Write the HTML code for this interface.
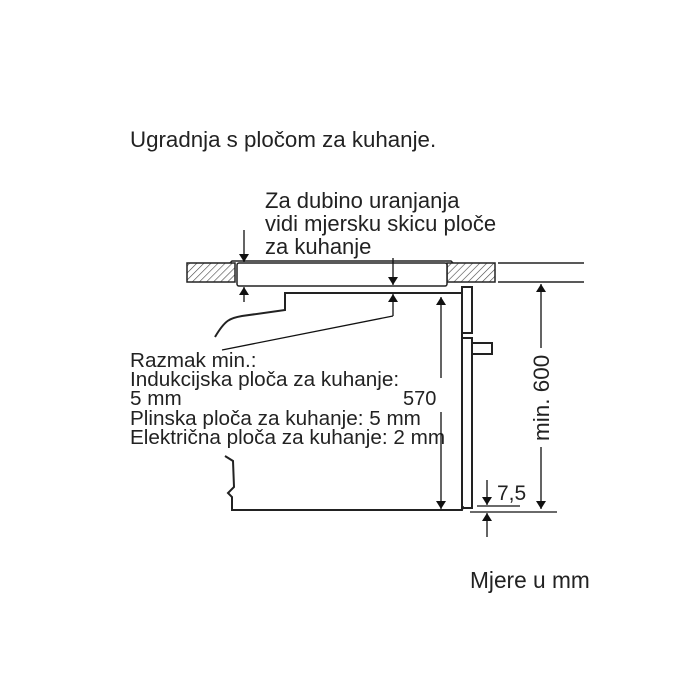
<!DOCTYPE html>
<html><head><style>
body{margin:0;background:#fff}
svg{display:block}
text{font-family:"Liberation Sans",sans-serif;fill:#222}
</style></head><body>
<svg width="700" height="700" viewBox="0 0 700 700">
<defs>
<pattern id="h" width="5" height="5" patternUnits="userSpaceOnUse" patternTransform="rotate(45)">
<line x1="0" y1="0" x2="0" y2="5" stroke="#444" stroke-width="1.2"/>
</pattern>
<marker id="a" markerWidth="8" markerHeight="10" refX="8" refY="5" orient="auto" markerUnits="userSpaceOnUse">
<path d="M0,0 L8,5 L0,10 z" fill="#111"/>
</marker>
</defs>
<text x="130" y="147" font-size="22.3">Ugradnja s pločom za kuhanje.</text>
<text x="265" y="208" font-size="22">Za dubino uranjanja</text>
<text x="265" y="231" font-size="22">vidi mjersku skicu ploče</text>
<text x="265" y="254" font-size="22">za kuhanje</text>
<g font-size="20.7">
<text x="130" y="367">Razmak min.:</text>
<text x="130" y="386">Indukcijska ploča za kuhanje:</text>
<text x="130" y="405">5 mm</text>
<text x="130" y="425">Plinska ploča za kuhanje: 5 mm</text>
<text x="130" y="444">Električna ploča za kuhanje: 2 mm</text>
</g>
<text x="470" y="588" font-size="22.7">Mjere u mm</text>
<rect x="187" y="263" width="48" height="19" fill="url(#h)" stroke="#222" stroke-width="1.5"/>
<rect x="447" y="263" width="48" height="19" fill="url(#h)" stroke="#222" stroke-width="1.5"/>
<line x1="498" y1="263" x2="584" y2="263" stroke="#222" stroke-width="1.5"/>
<line x1="498" y1="282" x2="584" y2="282" stroke="#222" stroke-width="1.5"/>
<path d="M230,263 L232,261 L451,261 L453,263" fill="none" stroke="#222" stroke-width="1.5"/>
<rect x="237" y="263" width="210" height="23" rx="2" fill="#fff" stroke="#222" stroke-width="1.5"/>
<path d="M215,337 C225,320 230,318 242,316 L285,310 L285,293 L462,293" fill="none" stroke="#222" stroke-width="2"/>
<path d="M462,287 L472,287 L472,333 L462,333 L462,338 L472,338 L472,508 L462,508 Z" fill="none" stroke="#222" stroke-width="2"/>
<path d="M472,343 L492,343 L492,354 L472,354" fill="none" stroke="#222" stroke-width="2"/>
<path d="M225,456 L233,461 L234,487 L228,493 L232,497 L232,510 L462,510 L463,506" fill="none" stroke="#222" stroke-width="2"/>
<g stroke="#111" stroke-width="1.3" fill="none">
<line x1="244" y1="230" x2="244" y2="262" marker-end="url(#a)"/>
<line x1="244" y1="302" x2="244" y2="287" marker-end="url(#a)"/>
<line x1="393" y1="258" x2="393" y2="285" marker-end="url(#a)"/>
<line x1="393" y1="316" x2="393" y2="294" marker-end="url(#a)"/>
<line x1="393" y1="316" x2="222" y2="350"/>
<line x1="441" y1="378" x2="441" y2="297" marker-end="url(#a)"/>
<line x1="441" y1="412" x2="441" y2="509" marker-end="url(#a)"/>
<line x1="541" y1="348" x2="541" y2="284" marker-end="url(#a)"/>
<line x1="541" y1="447" x2="541" y2="509" marker-end="url(#a)"/>
<line x1="487" y1="480" x2="487" y2="505" marker-end="url(#a)"/>
<line x1="487" y1="537" x2="487" y2="513" marker-end="url(#a)"/>
<line x1="477" y1="506" x2="520" y2="506"/>
<line x1="470" y1="512" x2="557" y2="512"/>
</g>
<text x="403" y="405" font-size="20">570</text>
<text x="497" y="500" font-size="21">7,5</text>
<text transform="translate(549,441) rotate(-90)" font-size="22.5">min. 600</text>
</svg>
</body></html>
